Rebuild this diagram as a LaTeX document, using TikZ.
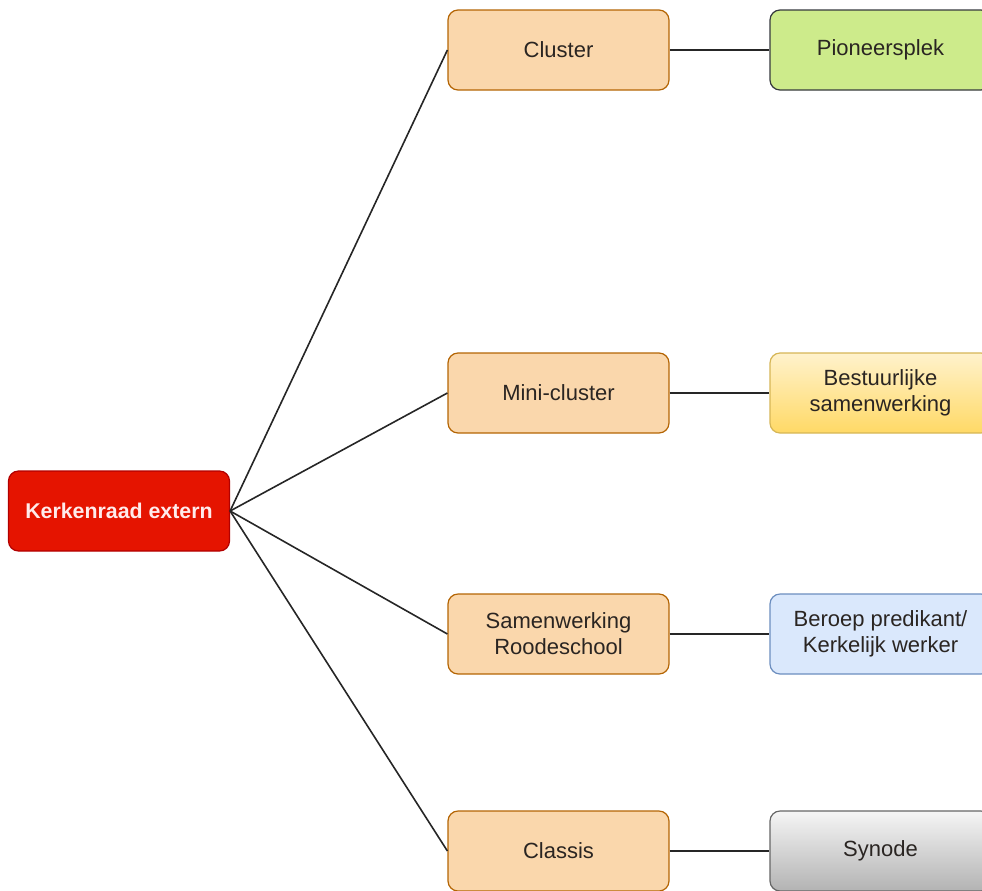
\documentclass[tikz,border=0pt]{standalone}
\usepackage{fontspec}
\setmainfont{Liberation Sans}
\definecolor{redfill}{HTML}{E51400}
\definecolor{redline}{HTML}{B20000}
\definecolor{orfill}{HTML}{FAD7AC}
\definecolor{orline}{HTML}{B46504}
\definecolor{grfill}{HTML}{CDEB8B}
\definecolor{grline}{HTML}{36393D}
\definecolor{yetop}{HTML}{FFF2CC}
\definecolor{yebot}{HTML}{FFD966}
\definecolor{yeline}{HTML}{D6B656}
\definecolor{blfill}{HTML}{DAE8FC}
\definecolor{blline}{HTML}{6C8EBF}
\definecolor{gytop}{HTML}{F5F5F5}
\definecolor{gybot}{HTML}{B3B3B3}
\definecolor{gyline}{HTML}{666666}
\definecolor{txt}{HTML}{2A2522}
\begin{document}
\begin{tikzpicture}[x=0.75pt,y=-0.75pt,
  box/.style={rectangle, rounded corners=7.5pt, minimum width=165.75pt, minimum height=60pt,
    line width=0.9pt, align=center, font=\fontsize{16.5}{19.5}\selectfont, text=txt, inner sep=0pt},
  rootbox/.style={box, fill=redfill, draw=redline, text=white!92!red, font=\fontsize{16}{19}\selectfont\bfseries},
  orbox/.style={box, fill=orfill, draw=orline},
  grbox/.style={box, fill=grfill, draw=grline},
  yebox/.style={box, top color=yetop, bottom color=yebot, draw=yeline},
  blbox/.style={box, fill=blfill, draw=blline},
  gybox/.style={box, top color=gytop, bottom color=gybot, draw=gyline},
  link/.style={draw=black!85, line width=1.2pt}]
\useasboundingbox (0,0) rectangle (982,890);
\node[rootbox] (root) at (119,511) {Kerkenraad extern};
\node[orbox] (cluster) at (558.5,50) {Cluster};
\node[orbox] (mini) at (558.5,393) {Mini-cluster};
\node[orbox] (samen) at (558.5,634) {Samenwerking\\Roodeschool};
\node[orbox] (classis) at (558.5,851) {Classis};
\node[grbox] (pioneer) at (880.5,50) {Pioneersplek};
\node[yebox] (bestuur) at (880.5,393) {Bestuurlijke\\samenwerking};
\node[blbox] (beroep) at (880.5,634) {Beroep predikant/\\Kerkelijk werker};
\node[gybox] (synode) at (880.5,851) {Synode};
\foreach \t in {cluster,mini,samen,classis}
  \draw[link] (root.east) -- (\t.west);
\draw[link] (cluster) -- (pioneer);
\draw[link] (mini) -- (bestuur);
\draw[link] (samen) -- (beroep);
\draw[link] (classis) -- (synode);
\end{tikzpicture}
\end{document}
